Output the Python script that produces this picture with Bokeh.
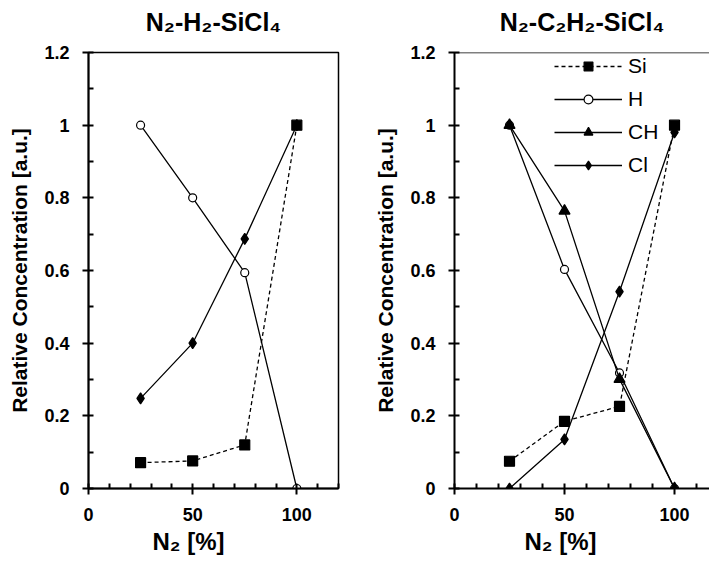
from bokeh.plotting import figure
from bokeh.layouts import row
from bokeh.models import Range1d, FixedTicker, Legend, LegendItem, Span, Title, LinearAxis
from bokeh.embed import file_html
from bokeh.resources import INLINE

# ---------------- data ----------------
n2_percent = [25, 50, 75, 100]

left_si = [0.071, 0.076, 0.12, 1.0]
left_h = [1.0, 0.80, 0.594, 0.0]
left_cl = [0.248, 0.40, 0.687, 1.0]

right_si = [0.075, 0.185, 0.226, 1.0]
right_h = [1.0, 0.603, 0.318, 0.0]
right_ch = [1.0, 0.764, 0.301, 0.0]
right_cl = [0.0, 0.135, 0.542, 0.98]

y_ticks = [0, 0.2, 0.4, 0.6, 0.8, 1.0, 1.2]
y_tick_labels = ["0", "0.2", "0.4", "0.6", "0.8", "1", "1.2"]
y_minor = [0.1, 0.3, 0.5, 0.7, 0.9, 1.1]
x_ticks = [0, 50, 100]
x_tick_labels = ["0", "50", "100"]
x_minor = [10, 20, 30, 40, 60, 70, 80, 90, 110, 120]

left_title = "N\u2082-H\u2082-SiCl\u2084"
right_title = "N\u2082-C\u2082H\u2082-SiCl\u2084"
x_label = "N\u2082 [%]"
y_label = "Relative Concentration [a.u.]"
legend_names = ["Si", "H", "CH", "Cl"]

FONT = "Liberation Sans"
H = 565


def style(p):
    p.xgrid.visible = False
    p.ygrid.visible = False
    p.background_fill_color = "white"
    p.border_fill_color = "white"
    for ax in (p.xaxis[0], p.yaxis[0]):
        ax.axis_line_width = 2
        ax.axis_line_color = "black"
        ax.major_tick_line_color = "black"
        ax.minor_tick_line_color = "black"
        ax.major_tick_line_width = 2
        ax.minor_tick_line_width = 2
        ax.major_tick_in = 5
        ax.major_tick_out = 6
        ax.minor_tick_in = 5
        ax.minor_tick_out = 0
        ax.major_label_text_font = FONT
        ax.major_label_text_font_style = "bold"
        ax.major_label_text_font_size = "18px"
        ax.major_label_text_color = "black"
    p.yaxis[0].ticker = FixedTicker(ticks=y_ticks, minor_ticks=y_minor)
    p.yaxis[0].major_label_overrides = {t: l for t, l in zip(y_ticks, y_tick_labels)}
    p.yaxis[0].major_label_standoff = 13
    p.xaxis[0].ticker = FixedTicker(ticks=x_ticks, minor_ticks=x_minor)
    p.xaxis[0].major_label_overrides = {t: l for t, l in zip(x_ticks, x_tick_labels)}
    p.xaxis[0].major_label_standoff = 13
    p.yaxis[0].axis_label = y_label
    p.yaxis[0].axis_label_text_font = FONT
    p.yaxis[0].axis_label_text_font_style = "bold"
    p.yaxis[0].axis_label_text_font_size = "21px"
    p.yaxis[0].axis_label_text_color = "black"
    p.yaxis[0].axis_label_standoff = 10


def add_series(p, ys, marker, size, fill, dash):
    r1 = p.line(n2_percent, ys, line_color="black", line_width=1.3, line_dash=dash)
    r2 = p.scatter(n2_percent, ys, marker=marker, size=size, fill_color=fill,
                   line_color="black", line_width=1.2)
    return [r1, r2]


def add_texts(p, title, xlabel_offset):
    top = LinearAxis(ticker=FixedTicker(ticks=[]), axis_label=title,
                     axis_line_color=None, major_tick_line_color=None,
                     minor_tick_line_color=None, major_tick_in=0, major_tick_out=0,
                     minor_tick_in=0, minor_tick_out=0, major_label_standoff=0,
                     axis_label_standoff=17, axis_label_text_font=FONT,
                     axis_label_text_font_style="bold", axis_label_text_font_size="25px",
                     axis_label_text_color="black")
    p.add_layout(top, "above")
    p.add_layout(Title(text=x_label, align="left", offset=xlabel_offset, text_font=FONT,
                       text_font_style="bold", text_font_size="24px", text_color="black",
                       standoff=4), "below")


# ---------------- left panel ----------------
pl = figure(width=354, height=H, output_backend="svg", toolbar_location=None,
            x_range=Range1d(0, 120), y_range=Range1d(0, 1.2),
            min_border_left=88, min_border_right=16, min_border_top=50,
            min_border_bottom=H - 492)
pl.outline_line_color = "black"
pl.outline_line_width = 1.5
style(pl)
add_series(pl, left_si, "square", 10, "black", "4 3")
add_series(pl, left_h, "circle", 8, "white", "solid")
add_series(pl, left_cl, "diamond", 11, "black", "solid")
add_texts(pl, left_title, 64)

# ---------------- right panel ----------------
pr = figure(width=355, height=H, output_backend="svg", toolbar_location=None,
            x_range=Range1d(0, 115.9), y_range=Range1d(0, 1.2),
            min_border_left=100, min_border_right=0, min_border_top=52,
            min_border_bottom=H - 488)
pr.outline_line_color = None
style(pr)
pr.add_layout(Span(location=1.2, dimension="width", line_color="black", line_width=1.5))
rs = add_series(pr, right_si, "square", 10, "black", "4 3")
rh = add_series(pr, right_h, "circle", 8, "white", "solid")
rc = add_series(pr, right_ch, "triangle", 11, "black", "solid")
rl = add_series(pr, right_cl, "diamond", 11, "black", "solid")
add_texts(pr, right_title, 70)

legend = Legend(items=[LegendItem(label=n, renderers=r) for n, r in
                       zip(legend_names, [rs, rh, rc, rl])],
                location=(100, 311), padding=0, margin=0, spacing=9,
                glyph_width=68, glyph_height=22, label_height=22,
                label_standoff=6, border_line_color=None, background_fill_alpha=0,
                label_text_font=FONT, label_text_font_size="21px",
                label_text_color="black")
pr.add_layout(legend)

layout = row(pl, pr)
open("out.html", "w").write(file_html(layout, INLINE))
